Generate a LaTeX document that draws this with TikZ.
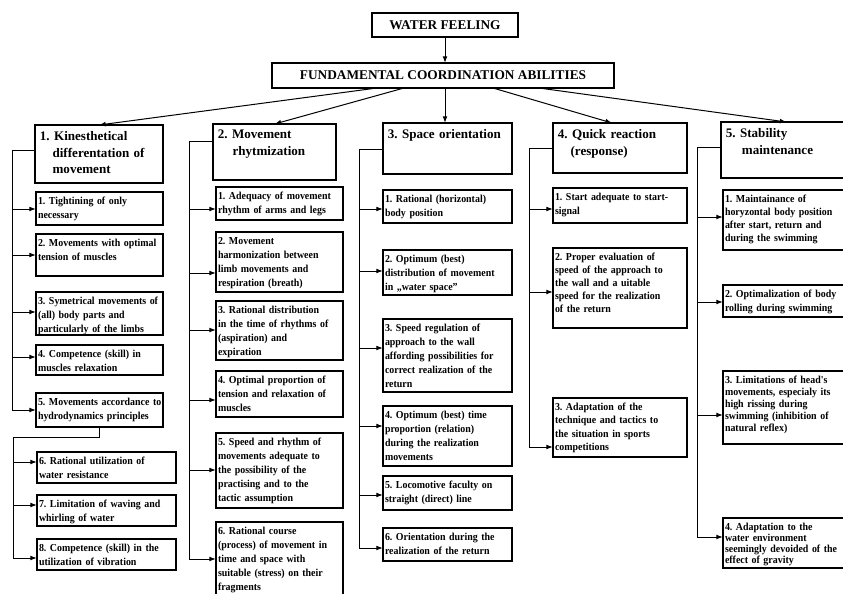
\documentclass[tikz,border=0pt]{standalone}
\usepackage{fontspec}
\setmainfont{Liberation Serif}
\newfontfamily\itemfont{Liberation Serif}[FakeStretch=0.93]
\usetikzlibrary{arrows.meta}
\frenchspacing

% box frame + top-left aligned text block; sizes given in px units of the picture
\newcommand\placebox[7]{%
  \pgfmathsetlengthmacro\boxw{#4*0.75pt}%
  \pgfmathsetlengthmacro\boxh{#5*0.75pt}%
  \pgfmathsetlengthmacro\txtw{#4*0.75pt+20pt}%
  \node[frame, minimum width=\boxw, minimum height=\boxh, anchor=north west] (#1) at (#2,#3) {};
  \node[#6, text width=\txtw, anchor=north west] (#1-t) at (#1.north west) {#7};}

\tikzset{
  frame/.style={draw, line width=0.9pt, inner sep=0pt, outer sep=0pt},
  titlebox/.style={draw, line width=1.2pt, inner sep=0pt, outer sep=0pt,
    font=\bfseries\fontsize{10}{12}\selectfont},
  itemtext/.style={inner xsep=1.3pt, inner ysep=3.5pt, align=left,
    font=\itemfont\bfseries\fontsize{8}{10.5}\selectfont},
  lead/.style={font=\itemfont\bfseries\fontsize{8}{#1}\selectfont},
  headtext/.style={inner xsep=3.5pt, inner ysep=4.5pt, align=left,
    font=\bfseries\fontsize{9.8}{12.5}\selectfont},
  link/.style={line width=0.75pt},
  arr/.style={line width=0.75pt, -{Latex[length=5pt,width=3.6pt]}},
}

\begin{document}
\begin{tikzpicture}[x=0.75pt,y=-0.75pt]
\useasboundingbox (0,0) rectangle (843,593);
\clip (0,0) rectangle (843,593);
\fill[white] (0,0) rectangle (843,593);

% top of the hierarchy
\node[titlebox, minimum width=109.5pt, minimum height=18pt, anchor=north west] (W) at (372,13) {WATER FEELING};
\node[titlebox, minimum width=256.5pt, minimum height=18.75pt, anchor=north west] (F) at (272,63) {FUNDAMENTAL COORDINATION ABILITIES};

% five ability groups
\placebox{H1}{35}{125}{128}{58}{headtext}{1. Kinesthetical\\\hspace*{9.5pt}differentation of\\\hspace*{9.5pt}movement}
\placebox{H2}{213}{124}{123}{56}{headtext}{2. Movement\\\hspace*{11pt}rhytmization}
\placebox{H3}{383}{123}{129}{51}{headtext}{3. Space orientation}
\placebox{H4}{553}{123}{134}{50}{headtext}{4. Quick reaction\\\hspace*{9.5pt}(response)}
\placebox{H5}{721}{122}{131}{56}{headtext}{5. Stability\\\hspace*{12pt}maintenance}

% group 1
\placebox{A1}{36}{192}{127}{33}{itemtext}{1. Tightining of only\\necessary}
\placebox{A2}{36}{234}{127}{42}{itemtext}{2. Movements with optimal\\tension of muscles}
\placebox{A3}{36}{292}{127}{43}{itemtext}{3. Symetrical movements of\\(all) body parts and\\particularly of the limbs}
\placebox{A4}{36}{345}{127}{30}{itemtext}{4. Competence (skill) in\\muscles relaxation}
\placebox{A5}{36}{393}{127}{34}{itemtext}{5. Movements accordance to\\hydrodynamics principles}
\placebox{A6}{37}{452}{139}{31}{itemtext}{6. Rational utilization of\\water resistance}
\placebox{A7}{37}{495}{139}{31}{itemtext}{7. Limitation of waving and\\whirling of water}
\placebox{A8}{37}{539}{139}{31}{itemtext}{8. Competence (skill) in the\\utilization of vibration}

% group 2
\placebox{B1}{216}{187}{127}{33}{itemtext}{1. Adequacy of movement\\rhythm of arms and legs}
\placebox{B2}{216}{232}{127}{60}{itemtext}{2. Movement\\harmonization between\\limb movements and\\respiration (breath)}
\placebox{B3}{216}{301}{127}{59}{itemtext}{3. Rational distribution\\in the time of rhythms of\\(aspiration) and\\expiration}
\placebox{B4}{216}{371}{127}{46}{itemtext}{4. Optimal proportion of\\tension and relaxation of\\muscles}
\placebox{B5}{216}{433}{127}{75}{itemtext}{5. Speed and rhythm of\\movements adequate to\\the possibility of the\\practising and to the\\tactic assumption}
\placebox{B6}{216}{522}{127}{76}{itemtext}{6. Rational course\\(process) of movement in\\time and space with\\suitable (stress) on their\\fragments}

% group 3
\placebox{C1}{383}{190}{129}{33}{itemtext}{1. Rational (horizontal)\\body position}
\placebox{C2}{383}{250}{129}{45}{itemtext}{2. Optimum (best)\\distribution of movement\\in „water space”}
\placebox{C3}{383}{319}{129}{73}{itemtext}{3. Speed regulation of\\approach to the wall\\affording possibilities for\\correct realization of the\\return}
\placebox{C4}{383}{406}{129}{60}{itemtext}{4. Optimum (best) time\\proportion (relation)\\during the realization\\movements}
\placebox{C5}{383}{476}{129}{34}{itemtext}{5. Locomotive faculty on\\straight (direct) line}
\placebox{C6}{383}{528}{129}{33}{itemtext}{6. Orientation during the\\realization of the return}

% group 4
\placebox{D1}{553}{188}{134}{35}{itemtext}{1. Start adequate to start-\\signal}
\placebox{D2}{553}{248}{134}{80}{itemtext, lead=9.75}{2. Proper evaluation of\\speed of the approach to\\the wall and a uitable\\speed for the realization\\of the return}
\placebox{D3}{553}{398}{134}{59}{itemtext, lead=10}{3. Adaptation of the\\technique and tactics to\\the situation in sports\\competitions}

% group 5
\placebox{E1}{723}{190}{130}{60}{itemtext, lead=9.75}{1. Maintainance of\\horyzontal body position\\after start, return and\\during the swimming}
\placebox{E2}{723}{285}{130}{32}{itemtext}{2. Optimalization of body\\rolling during swimming}
\placebox{E3}{723}{371}{130}{73}{itemtext, lead=9}{3. Limitations of head's\\movements, especialy its\\high rissing during\\swimming (inhibition of\\natural reflex)}
\placebox{E4}{723}{518}{130}{50}{itemtext, lead=8.4}{4. Adaptation to the\\water environment\\seemingly devoided of the\\effect of gravity}

% links from the top
\draw[arr] (W.south) -- (W.south |- F.north);
\draw[arr] (F.south -| 377,0) -- (H1.north);
\draw[arr] (F.south -| 404,0) -- (H2.north);
\draw[arr] (F.south -| 445,0) -- (H3.north -| 445,0);
\draw[arr] (F.south -| 493,0) -- (H4.north -| 612,0);
\draw[arr] (F.south -| 539,0) -- (H5.north);

% group trunks and branch arrows
\coordinate (k1) at (12,0);
\coordinate (k1b) at (13,0);
\coordinate (k2) at (189,0);
\coordinate (k3) at (359,0);
\coordinate (k4) at (529,0);
\coordinate (k5) at (697,0);

\draw[link] (H1.west |- 0,150) -- (k1 |- 0,150) -- (k1 |- 0,410);
\foreach \b/\y in {A1/209,A2/255,A3/312,A4/357,A5/410}
  \draw[arr] (k1 |- 0,\y) -- (\b.west |- 0,\y);
\draw[link] (A5.south) -- (A5.south |- 0,437) -- (k1b |- 0,437) -- (k1b |- 0,558);
\foreach \b/\y in {A6/462,A7/505,A8/558}
  \draw[arr] (k1b |- 0,\y) -- (\b.west |- 0,\y);

\draw[link] (H2.west |- 0,141) -- (k2 |- 0,141) -- (k2 |- 0,559);
\foreach \b/\y in {B1/209,B2/273,B3/330,B4/400,B5/470,B6/559}
  \draw[arr] (k2 |- 0,\y) -- (\b.west |- 0,\y);

\draw[link] (H3.west |- 0,149) -- (k3 |- 0,149) -- (k3 |- 0,548);
\foreach \b/\y in {C1/209,C2/271,C3/348,C4/426,C5/495,C6/548}
  \draw[arr] (k3 |- 0,\y) -- (\b.west |- 0,\y);

\draw[link] (H4.west |- 0,148) -- (k4 |- 0,148) -- (k4 |- 0,447);
\foreach \b/\y in {D1/209,D2/292,D3/447}
  \draw[arr] (k4 |- 0,\y) -- (\b.west |- 0,\y);

\draw[link] (H5.west |- 0,147) -- (k5 |- 0,147) -- (k5 |- 0,537);
\foreach \b/\y in {E1/217,E2/302,E3/415,E4/537}
  \draw[arr] (k5 |- 0,\y) -- (\b.west |- 0,\y);
\end{tikzpicture}
\end{document}
